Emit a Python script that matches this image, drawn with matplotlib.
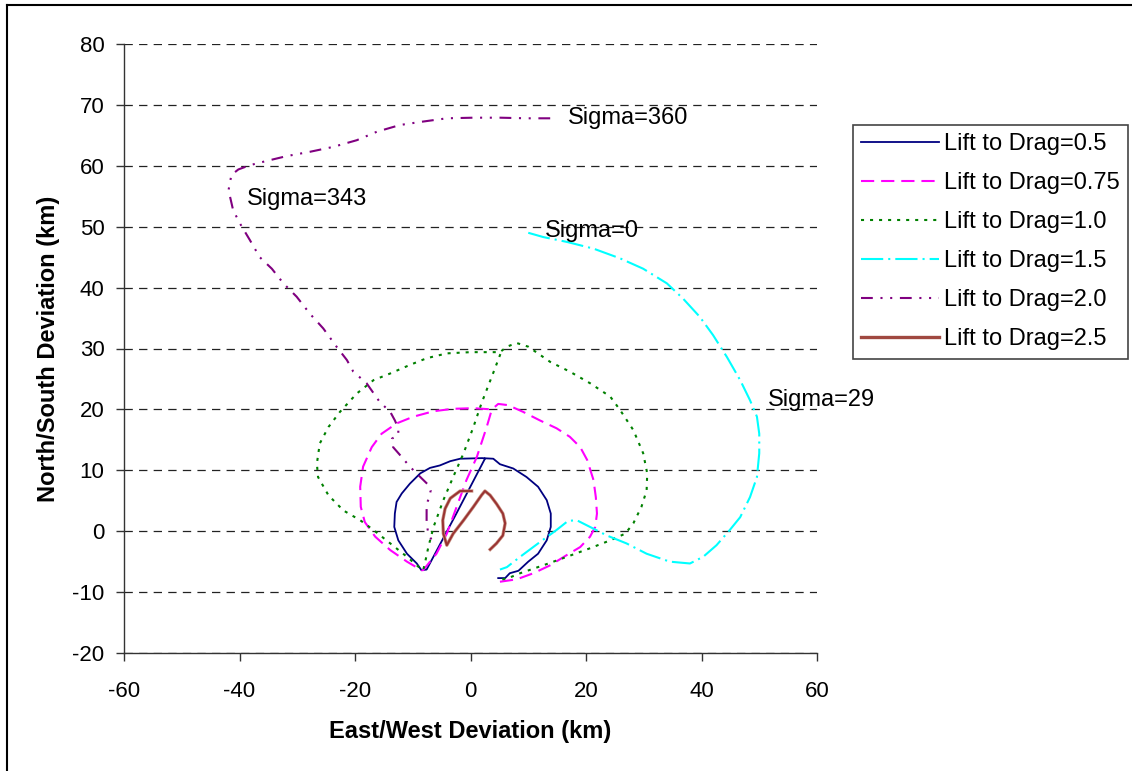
import numpy as np
import matplotlib
matplotlib.use("Agg")
import matplotlib.pyplot as plt
from matplotlib.lines import Line2D

plt.rcParams['font.family'] = ['Liberation Sans', 'DejaVu Sans']
plt.rcParams['lines.scale_dashes'] = False
plt.rcParams['axes.unicode_minus'] = False

# ---- footprint traces (km), one closed-ish loop per lift/drag ratio ----
ld05_x = [4.8, 6.0, 6.8, 8.3, 10.0, 11.7, 13.2, 13.9, 13.9, 13.2, 11.7, 9.7, 7.4, 5.1, 3.95,
          2.0, -1.8, -3.5, -5.3, -7.0, -8.7, -10.5, -11.9, -12.8, -13.1, -13.2, -12.5, -11.0,
          -9.3, -8.5, -7.6, -2.5, 2.5]
ld05_y = [-7.7, -7.7, -6.9, -6.5, -5.0, -3.7, -1.5, 0.7, 2.9, 5.1, 7.3, 8.9, 10.3, 11.0, 11.9,
          12.0, 11.9, 11.5, 10.8, 10.4, 9.5, 7.8, 6.2, 4.8, 2.9, 0.7, -1.5, -3.7,
          -5.3, -6.4, -6.3, 2.8, 11.9]

ld075_x = [5.1, 8.0, 10.9, 13.8, 16.7, 19.0, 20.7, 21.6, 21.9, 21.7, 21.3, 20.2, 19.0, 17.2,
           14.9, 12.0, 9.1, 6.5, 4.8, 3.7, 0.5, -3.0, -6.4, -9.9, -12.8, -15.4, -17.1, -18.6,
           -19.1, -19.0, -18.3, -16.5, -13.9, -11.0, -8.5, -8.2, -5.9, -4.1, -2.4, -0.7, 1.1,
           2.8, 3.7]
ld075_y = [-8.3, -7.9, -6.9, -5.6, -3.9, -2.6, -0.9, 0.7, 2.9, 5.6, 8.4, 11.7, 13.8, 15.5,
           16.9, 18.2, 19.6, 20.7, 20.9, 20.0, 20.2, 20.1, 19.7, 18.8, 17.7, 16.0, 13.8, 10.6,
           7.3, 4.0, 1.5, -0.9, -3.1, -5.0, -6.4, -6.4, -3.7, -0.4, 4.0, 8.4, 12.2,
           17.1, 20.0]

ld10_x = [5.5, 6.3, 8.6, 12.6, 16.7, 20.7, 24.2, 26.8, 28.2, 29.6, 30.5, 30.6, 29.9, 28.2,
          25.9, 24.2, 20.7, 17.2, 13.8, 10.0, 8.0, 6.3, 5.1, 0.0, -4.1, -7.6, -10.5, -13.9,
          -16.8, -19.7, -22.6, -24.6, -26.1, -26.6, -26.4, -24.6, -22.0, -19.1, -16.8, -13.9,
          -11.0, -8.7, -8.2, -7.9, -7.3, -6.4, -4.7, -3.0, -1.2, 0.5, 1.9, 3.9, 5.3]
ld10_y = [-7.9, -7.8, -6.9, -5.6, -4.2, -2.8, -1.5, -0.4, 1.3, 4.0, 6.7, 9.5, 12.8, 16.6,
          19.9, 22.1, 24.3, 26.2, 27.8, 30.3, 30.9, 30.3, 29.4, 29.4, 29.2, 28.4, 27.3, 25.9,
          24.8, 22.6, 19.6, 17.1, 14.4, 11.1, 8.9, 5.9, 3.4, 1.8, 0.2, -2.0,
          -4.2, -6.1, -6.4, -5.3, -2.6, 0.7, 5.1, 8.9, 12.8, 17.1, 21.0, 25.9, 29.4]

ld15_x = [10.0, 12.6, 16.7, 21.3, 25.9, 29.9, 34.0, 36.8, 39.7, 42.0, 44.4, 46.7, 48.4, 49.6,
          50.0, 50.0, 49.6, 48.4, 46.7, 44.9, 42.6, 40.3, 38.0, 34.5, 30.5, 27.0, 23.6, 20.7,
          18.4, 16.9, 14.9, 12.0, 8.6, 6.3, 5.1]
ld15_y = [49.0, 48.3, 47.5, 46.4, 44.8, 43.1, 40.7, 38.2, 35.2, 32.2, 28.6, 24.8, 21.5, 18.8,
          16.0, 12.8, 8.9, 5.6, 2.3, 0.2, -2.3, -4.2, -5.3, -5.0, -3.7, -2.0, -0.7, 0.7,
          1.8, 1.7, 0.2, -1.8, -4.2, -5.9, -6.3]

ld20_x = [13.8, 9.7, 5.1, 0.5, -4.1, -8.7, -12.2, -16.2, -19.7, -23.8, -27.8, -31.8, -35.3,
          -38.2, -40.2, -41.4, -41.9, -41.1, -39.9, -38.2, -36.5, -34.4, -32.4, -30.1, -27.8,
          -25.5, -23.2, -21.4, -20.3, -18.0, -15.7, -13.9, -13.1, -12.5, -12.5, -13.6, -13.4,
          -12.2, -10.5, -8.7, -7.3, -6.9, -7.1, -7.6, -7.6, -7.3, -6.7, -5.9]
ld20_y = [67.8, 67.8, 67.9, 67.9, 67.8, 67.2, 66.7, 65.6, 64.2, 63.1, 62.3, 61.6, 60.8,
          60.1, 59.4, 58.5, 56.0, 52.7, 50.5, 47.8, 45.0, 43.1, 40.7, 38.5, 35.7,
          33.3, 30.3, 28.1, 26.2, 24.3, 21.2, 19.6, 18.2, 16.9, 15.8, 15.2, 13.8,
          12.5, 10.6, 8.9, 7.6, 6.7, 5.6, 4.5, 1.3, -0.4, -1.5, -2.3]

ld25_x = [0.2, -1.8, -3.5, -4.4, -4.8, -4.7, -4.1, -3.0, -1.2, 0.5, 1.9, 2.5, 3.4, 4.5, 5.6,
          6.0, 5.6, 4.5, 3.4]
ld25_y = [6.6, 6.6, 5.4, 3.7, 1.8, -0.4, -2.3, -0.4, 1.8, 4.0, 5.9, 6.6, 5.9, 4.5, 2.9,
          1.3, -0.7, -2.0, -3.0]

labels = ['Lift to Drag=0.5', 'Lift to Drag=0.75', 'Lift to Drag=1.0',
          'Lift to Drag=1.5', 'Lift to Drag=2.0', 'Lift to Drag=2.5']

sigma_text = ['Sigma=360', 'Sigma=343', 'Sigma=0', 'Sigma=29']
sigma_x = [16.9, -38.7, 12.9, 51.5]
sigma_y = [67.8, 54.5, 49.3, 21.6]

fig = plt.figure(figsize=(11.32, 7.71), dpi=100)
ax = fig.add_axes([124/1132, 1-653/771, (817-124)/1132, (653-44)/771])

ax.plot(ld05_x, ld05_y, color='#000080', lw=1.3, ls='-')
ax.plot(ld075_x, ld075_y, color='#FF00FF', lw=1.5, ls=(0, (9.5, 5)))
ax.plot(ld10_x, ld10_y, color='#008000', lw=1.5, ls=(0, (2.2, 4.3)))
ax.plot(ld15_x, ld15_y, color='#00FFFF', lw=1.5, ls=(0, (16, 3.6, 1.5, 3.6)))
ax.plot(ld20_x, ld20_y, color='#800080', lw=1.5, ls=(0, (8.5, 5.5, 1.5, 5.5, 1.5, 5.5)))
ax.plot(ld25_x, ld25_y, color='#C89080', lw=2.4, ls='-')
ax.plot(ld25_x, ld25_y, color='#993333', lw=1.4, ls='-')

for t, x, y in zip(sigma_text, sigma_x, sigma_y):
    ax.text(x, y, t, fontsize=17, ha='left', va='center', color='black')

ax.set_xlim(-60, 60)
ax.set_ylim(-20, 80)
ax.set_xticks(np.arange(-60, 61, 20))
ax.set_yticks(np.arange(-20, 81, 10))
ax.tick_params(labelsize=16, length=6, width=1, direction='out', color='#333333')
ax.tick_params(axis='x', pad=14)
ax.tick_params(axis='y', pad=8)
for s in ['top', 'right']:
    ax.spines[s].set_visible(False)
for s in ['left', 'bottom']:
    ax.spines[s].set_color('#333333')
    ax.spines[s].set_linewidth(1)
ax.set_axisbelow(True)
ax.yaxis.grid(True, color='#222222', lw=0.9, ls=(0, (6, 4.5)))

ax.set_xlabel('East/West Deviation (km)', fontsize=17, fontweight='bold', labelpad=13)
ax.set_ylabel('North/South Deviation (km)', fontsize=17, fontweight='bold', labelpad=9)

handles = [
    Line2D([], [], color='#000080', lw=1.3, ls='-'),
    Line2D([], [], color='#FF00FF', lw=1.5, ls=(0, (9.5, 5))),
    Line2D([], [], color='#008000', lw=1.5, ls=(0, (2.2, 4.3))),
    Line2D([], [], color='#00FFFF', lw=1.5, ls=(0, (16, 3.6, 1.5, 3.6))),
    Line2D([], [], color='#800080', lw=1.5, ls=(0, (8.5, 5.5, 1.5, 5.5, 1.5, 5.5))),
    Line2D([], [], color='#A04840', lw=2.4, ls='-'),
]
leg = fig.legend(handles, labels, loc='upper left', bbox_to_anchor=(853/1132, 1-125/771),
                 bbox_transform=fig.transFigure, fontsize=17, frameon=True, fancybox=False,
                 framealpha=1, edgecolor='#444444', borderpad=0.35, borderaxespad=0,
                 handlelength=3.3, handletextpad=0.2, labelspacing=0.72)
leg.get_frame().set_linewidth(1.2)

# partial outer frame (top and left edges)
fig.add_artist(Line2D([7/1132, 7/1132], [0, 1-5/771], transform=fig.transFigure,
                      color='black', lw=1.5))
fig.add_artist(Line2D([7/1132, 1], [1-5/771, 1-5/771], transform=fig.transFigure,
                      color='black', lw=1.5))

fig.savefig('out.png', dpi=100)
